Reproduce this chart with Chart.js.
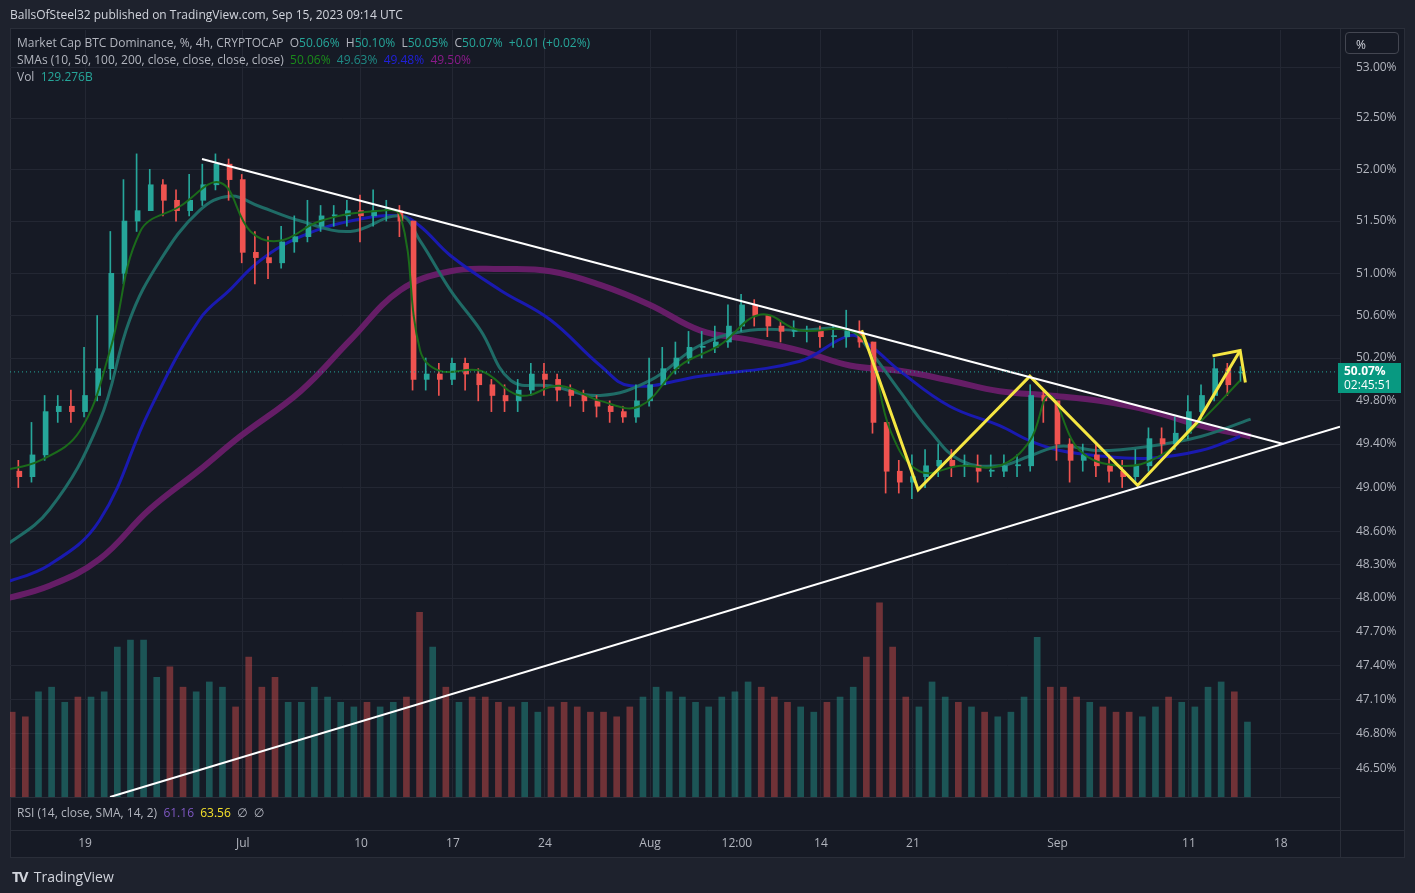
<!DOCTYPE html>
<html>
<head>
<meta charset="utf-8">
<script src="https://cdn.jsdelivr.net/npm/chart.js@4.4.0/dist/chart.umd.min.js"></script>
<style>
  html, body { margin: 0; padding: 0; background: #1e222d; }
  #wrap { position: relative; width: 1415px; height: 893px; font-family: "Open Sans", "DejaVu Sans", sans-serif; }
  canvas { position: absolute; left: 0; top: 0; }
  .t { position: absolute; white-space: nowrap; font-size: 12px; color: #b2b5be; }
</style>
</head>
<body>
<div id="wrap">
  <canvas id="c" width="1415" height="893"></canvas>
  <div class="t" style="left:10px;top:6px;color:#d1d4dc;">BallsOfSteel32 published on TradingView.com, Sep 15, 2023 09:14 UTC</div>
  <div class="t" style="left:17px;top:34px;">Market Cap BTC Dominance, %, 4h, CRYPTOCAP&nbsp; O<span style="color:#26a69a">50.06%</span>&nbsp; H<span style="color:#26a69a">50.10%</span>&nbsp; L<span style="color:#26a69a">50.05%</span>&nbsp; C<span style="color:#26a69a">50.07%</span>&nbsp; <span style="color:#26a69a">+0.01 (+0.02%)</span></div>
  <div class="t" style="left:17px;top:51px;">SMAs (10, 50, 100, 200, close, close, close, close)&nbsp; <span style="color:#1b8a1b">50.06%</span>&nbsp; <span style="color:#1f8a85">49.63%</span>&nbsp; <span style="color:#2020d8">49.48%</span>&nbsp; <span style="color:#8a1a8a">49.50%</span></div>
  <div class="t" style="left:17px;top:68px;">Vol&nbsp; <span style="color:#26a69a">129.276B</span></div>
  <div class="t" style="left:17px;top:804px;">RSI (14, close, SMA, 14, 2)&nbsp; <span style="color:#7e57c2">61.16</span>&nbsp; <span style="color:#f5e12a">63.56</span>&nbsp; ∅&nbsp; ∅</div>
  <div class="t" style="left:1345px;top:32px;width:54px;height:22px;border:1px solid #434651;border-radius:4px;box-sizing:border-box;padding:3px 0 0 10px;color:#d1d4dc;">%</div>
  <div class="t" style="left:1338px;top:363px;width:63px;height:30px;background:#089981;color:#fff;font-size:12px;line-height:14px;padding:1px 0 0 6px;box-sizing:border-box;"><b>50.07%</b><br>02:45:51</div>
  <div class="t" style="left:12px;top:866px;font-size:14px;color:#d1d4dc;"><b style="font-size:15px;letter-spacing:-2px;">TV</b>&nbsp; TradingView</div>
</div>
<script>
// days counted from Jun 1 2023 (Jun 19 = 18), one candle per day
const startDay = 12;
const closes = [49.15,49.1,49.3,49.7,49.75,49.7,49.85,50.1,51.0,51.5,51.6,51.85,51.7,51.6,51.7,51.85,52.05,51.9,51.2,51.15,
  51.1,51.3,51.35,51.45,51.55,51.55,51.6,51.55,51.6,51.6,51.5,50.0,50.05,50.0,50.15,50.05,49.95,49.85,49.8,49.9,
  50.05,50.0,49.9,49.85,49.8,49.75,49.7,49.65,49.8,49.95,50.1,50.2,50.3,50.3,50.35,50.5,50.7,50.6,50.5,50.45,
  50.45,50.45,50.4,50.4,50.45,50.35,49.6,49.15,49.05,49.1,49.2,49.25,49.2,49.2,49.15,49.15,49.2,49.2,49.85,49.8,
  49.4,49.25,49.3,49.2,49.15,49.1,49.2,49.45,49.4,49.5,49.7,49.85,50.1,49.95,50.07];
const opens = [49.2,49.15,49.1,49.3,49.7,49.75,49.7,49.85,50.1,51.0,51.5,51.6,51.85,51.7,51.6,51.7,51.85,52.05,51.9,51.2,
  51.15,51.1,51.3,51.35,51.45,51.55,51.55,51.6,51.55,51.6,51.6,51.5,50.0,50.05,50.0,50.15,50.05,49.95,49.85,49.8,
  49.9,50.05,50.0,49.9,49.85,49.8,49.75,49.7,49.65,49.8,49.95,50.1,50.2,50.3,50.3,50.35,50.5,50.7,50.6,50.5,
  50.45,50.45,50.45,50.4,50.4,50.45,50.35,49.6,49.15,49.05,49.1,49.2,49.25,49.2,49.2,49.15,49.15,49.2,49.2,49.85,
  49.8,49.4,49.25,49.3,49.2,49.15,49.1,49.2,49.45,49.4,49.5,49.7,49.85,50.1,50.06];
const highs = [49.3,49.25,49.6,49.85,49.85,49.9,50.3,50.6,51.4,51.9,52.15,52.0,51.9,51.8,51.95,52.05,52.15,52.1,51.95,51.4,
  51.35,51.45,51.55,51.7,51.65,51.65,51.7,51.75,51.8,51.7,51.65,51.5,50.2,50.15,50.2,50.2,50.1,50.0,49.95,50.0,
  50.15,50.15,50.05,49.95,49.9,49.85,49.8,49.75,49.95,50.2,50.3,50.35,50.45,50.45,50.5,50.7,50.8,50.75,50.6,50.55,
  50.55,50.5,50.5,50.5,50.65,50.55,50.35,49.6,49.25,49.3,49.35,49.4,49.35,49.3,49.3,49.3,49.3,49.3,49.95,49.9,
  49.8,49.45,49.4,49.4,49.3,49.25,49.35,49.55,49.55,49.65,49.85,49.95,50.2,50.15,50.12];
const lows = [49.0,49.0,49.05,49.25,49.6,49.6,49.65,49.8,50.0,50.9,51.4,51.6,51.55,51.5,51.55,51.65,51.8,51.7,51.1,50.9,
  50.95,51.05,51.2,51.3,51.4,51.45,51.45,51.3,51.45,51.5,51.35,49.9,49.9,49.85,49.95,49.9,49.8,49.7,49.7,49.7,
  49.85,49.85,49.8,49.75,49.7,49.65,49.6,49.6,49.6,49.75,49.95,50.05,50.15,50.2,50.25,50.3,50.45,50.5,50.4,50.35,
  50.4,50.35,50.3,50.3,50.3,50.3,49.5,48.95,48.95,48.9,49.0,49.1,49.1,49.1,49.05,49.1,49.1,49.1,49.15,49.6,
  49.25,49.05,49.15,49.1,49.05,49.0,49.05,49.15,49.3,49.35,49.45,49.6,49.8,49.85,49.98];
const volumes = [146,138,181,189,163,172,172,181,258,270,270,206,224,189,181,198,189,155,241,189,
  206,163,163,189,172,163,155,163,155,163,172,318,258,189,163,172,172,163,155,163,
  146,155,163,155,146,146,138,155,172,189,181,172,163,155,172,181,198,189,172,163,
  155,146,163,172,189,241,334,258,172,155,198,172,163,155,146,138,146,172,275,189,
  189,172,163,155,146,146,138,155,172,163,155,189,198,181,129];

const sma10Days = [11.5,14.6,17.6,19.9,22.2,25.2,28.3,30.6,32.8,35.9,40.4,42.0,43.5,45.0,48.1,51.1,54.1,57.2,60.2,63.3,66.3,69.4,72.4,76.2,77.7,79.3,81.5,84.6,87.6,89.9,91.4,93.7,96.8,99.8,102.9,105.9];
const sma10 = [49.15,49.25,49.52,50.27,51.4,51.64,51.87,51.4,51.31,51.5,51.6,51.55,50.27,50.08,50.08,49.85,49.94,49.8,49.75,50.13,50.32,50.61,50.46,50.46,50.27,49.52,49.15,49.2,49.2,49.43,49.85,49.34,49.2,49.29,49.61,49.99];
const sma50Days = [11.5,15.3,19.1,21.4,23.7,26.7,29.0,31.3,34.4,38.2,42.0,43.5,45.8,48.1,50.4,53.4,57.2,61.0,64.8,68.6,72.4,76.2,77.7,80.0,82.3,84.6,87.6,89.9,92.2,95.2,99.0,102.9,106.7];
const sma50 = [48.43,48.80,49.61,50.56,51.12,51.6,51.74,51.64,51.5,51.4,51.55,51.31,50.84,50.46,49.99,49.94,49.85,49.99,50.32,50.46,50.46,50.46,50.27,49.89,49.52,49.25,49.2,49.29,49.38,49.34,49.38,49.47,49.63];
const sma100Days = [11.5,15.3,19.1,22.9,26.7,29.0,31.3,34.4,38.2,42.0,43.5,45.8,49.6,53.4,57.2,59.5,64.8,72.4,76.2,77.7,80.0,83.8,87.6,89.9,92.2,95.2,99.0,102.9,105.9];
const sma100 = [48.12,48.3,48.70,49.71,50.56,50.84,51.12,51.35,51.5,51.55,51.45,51.17,50.84,50.56,50.13,49.94,50.03,50.17,50.41,50.32,50.08,49.75,49.57,49.43,49.34,49.29,49.27,49.34,49.47];
const sma200Days = [11.5,15.3,19.1,22.9,26.7,29.8,34.4,38.2,42.0,45.8,49.6,53.4,57.2,61.0,64.8,68.6,72.4,76.2,80.0,83.8,87.6,91.4,95.2,99.0,102.9,106.7];
const sma200 = [47.98,48.11,48.35,48.8,49.16,49.47,49.89,50.37,50.84,51.02,51.04,51.02,50.89,50.7,50.46,50.37,50.27,50.13,50.08,49.99,49.89,49.85,49.8,49.71,49.57,49.47];

// drawings on the chart
const upperLine = [[26.9,52.1],[109.2,49.4]];
const lowerLine = [[19.9,46.25],[113.5,49.56]];
const zigzag = [[77.1,50.46],[81.4,48.98],[89.9,50.03],[98.1,49.02],[102.7,49.61],[105.9,50.27]];
const arrowHead = [[103.8,50.22],[105.9,50.27],[106.3,49.97]];

const priceTicks = [46.5,46.8,47.1,47.4,47.7,48.0,48.3,48.6,49.0,49.4,49.8,50.2,50.6,51.0,51.5,52.0,52.5,53.0];
const dateTicks = [[18,"19"],[30,"Jul"],[39,"10"],[46,"17"],[53,"24"],[61,"Aug"],[67.6,"12:00"],[74,"14"],[81,"21"],[92,"Sep"],[102,"11"],[109,"18"]];
const lastPrice = 50.07;

const UP = "#26a69a", DOWN = "#ef5350";
const days = closes.map((_, i) => startDay + i);
const col = closes.map((c, i) => c >= opens[i] ? UP : DOWN);
const pts = (xs, ys) => xs.map((x, i) => ({ x: x, y: ys[i] }));
const pairs = a => a.map(p => ({ x: p[0], y: p[1] }));

const panelPlugin = {
  id: "panel",
  beforeDraw(chart) {
    const g = chart.ctx;
    g.save();
    g.fillStyle = "#1e222d";
    g.fillRect(0, 0, 1415, 893);
    g.fillStyle = "#161a25";
    g.fillRect(10, 28, 1395, 830);
    g.strokeStyle = "#2a2e39";
    g.strokeRect(10.5, 28.5, 1394, 829);
    g.beginPath();
    g.moveTo(10, 797.5); g.lineTo(1340, 797.5);
    g.moveTo(10, 830.5); g.lineTo(1405, 830.5);
    g.moveTo(1340.5, 28); g.lineTo(1340.5, 858);
    g.stroke();
    g.restore();
  },
  afterDatasetsDraw(chart) {
    const g = chart.ctx, xs = chart.scales.x, ys = chart.scales.y;
    g.save();
    const py = ys.getPixelForValue(lastPrice);
    g.setLineDash([1, 3]);
    g.strokeStyle = UP;
    g.beginPath(); g.moveTo(10, py); g.lineTo(1340, py); g.stroke();
    g.setLineDash([]);
    g.fillStyle = "#b2b5be";
    g.font = "12px 'Open Sans', sans-serif";
    g.textAlign = "center";
    g.textBaseline = "middle";
    dateTicks.forEach(t => g.fillText(t[1], xs.getPixelForValue(t[0]), 844));
    g.restore();
  }
};

new Chart(document.getElementById("c"), {
  data: {
    datasets: [
      { type: "bar", data: days.map((d, i) => ({ x: d, y: volumes[i] })), yAxisID: "v",
        backgroundColor: col.map(c => c === UP ? "rgba(38,166,154,0.42)" : "rgba(239,83,80,0.42)"),
        barThickness: 6, order: 10 },
      { type: "line", data: pts(sma200Days, sma200), borderColor: "rgba(110,30,110,0.9)", borderWidth: 6, pointRadius: 0, tension: 0.4, order: 5 },
      { type: "line", data: pts(sma100Days, sma100), borderColor: "#1a1ab0", borderWidth: 3, pointRadius: 0, tension: 0.4, order: 4 },
      { type: "line", data: pts(sma50Days, sma50), borderColor: "#1f6b66", borderWidth: 3, pointRadius: 0, tension: 0.4, order: 3 },
      { type: "bar", data: days.map((d, i) => ({ x: d, y: [lows[i], highs[i]] })), backgroundColor: col,
        barThickness: 1, order: 2 },
      { type: "bar", data: days.map((d, i) => ({ x: d, y: [opens[i], closes[i] === opens[i] ? closes[i] + 0.01 : closes[i]] })), backgroundColor: col,
        barThickness: 5, order: 2 },
      { type: "line", data: pts(sma10Days, sma10), borderColor: "#1b6b1b", borderWidth: 2, pointRadius: 0, tension: 0.4, order: 1 },
      { type: "line", data: pairs(upperLine), borderColor: "#ffffff", borderWidth: 2, pointRadius: 0, order: 0 },
      { type: "line", data: pairs(lowerLine), borderColor: "#ffffff", borderWidth: 2, pointRadius: 0, order: 0 },
      { type: "line", data: pairs(zigzag), borderColor: "#f5e642", borderWidth: 3, pointRadius: 0, order: 0 },
      { type: "line", data: pairs(arrowHead), borderColor: "#f5e642", borderWidth: 3, pointRadius: 0, order: 0 }
    ]
  },
  options: {
    responsive: false,
    animation: false,
    layout: { padding: { left: 10, top: 30, bottom: 96, right: 10 } },
    plugins: { legend: { display: false }, tooltip: { enabled: false } },
    scales: {
      x: {
        type: "linear", min: 12.29, max: 113.5, offset: false,
        afterBuildTicks: s => { s.ticks = dateTicks.map(t => ({ value: t[0] })); },
        ticks: { display: false },
        grid: { color: "#232733", drawTicks: false, offset: false },
        border: { display: false },
        afterFit: s => { s.height = 0; }
      },
      y: {
        type: "logarithmic", position: "right", min: 46.25, max: 53.37,
        afterBuildTicks: s => { s.ticks = priceTicks.map(v => ({ value: v })); },
        ticks: { color: "#b2b5be", font: { size: 12, family: "'Open Sans', sans-serif" }, padding: 16,
          callback: v => v.toFixed(2) + "%" },
        grid: { color: "#232733", drawTicks: false },
        border: { display: false },
        afterFit: s => { s.width = 65; }
      },
      v: { type: "linear", display: false, min: 0, max: 1320 }
    }
  },
  plugins: [panelPlugin]
});
</script>
</body>
</html>
